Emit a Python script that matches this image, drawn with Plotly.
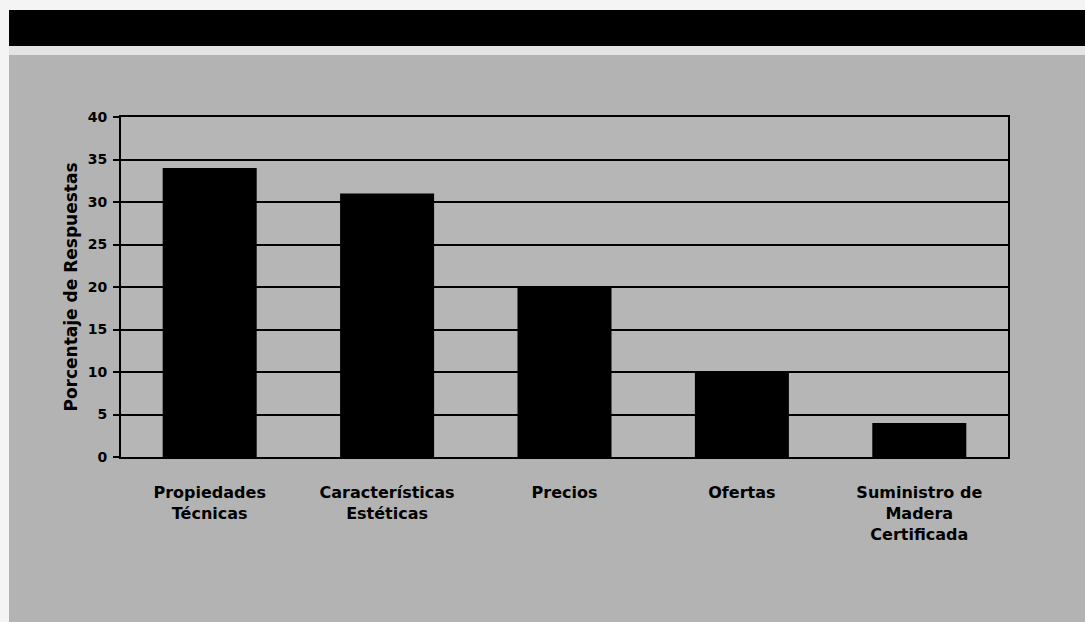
import plotly.graph_objects as go

categories = ["Propiedades<br>Técnicas", "Características<br>Estéticas", "Precios", "Ofertas",
              "Suministro de<br>Madera<br>Certificada"]
values = [34, 31, 20, 10, 4]
y_ticks = [0, 5, 10, 15, 20, 25, 30, 35, 40]

W, H = 1085, 622
L, R, T, B = 121, 77, 117, 165


def xp(px):
    return (px - L) / (W - L - R)


def yp(py):
    return (H - B - py) / (H - T - B)


def rect(x0, y0, x1, y1, color):
    return dict(type="rect", xref="paper", yref="paper",
                x0=xp(x0), x1=xp(x1), y0=yp(y1), y1=yp(y0),
                fillcolor=color, line=dict(width=0), layer="below")


fig = go.Figure(go.Bar(x=categories, y=values, marker=dict(color="black", line=dict(width=0)),
                       width=0.53))

font = "DejaVu Sans, sans-serif"
fig.update_layout(
    width=W, height=H,
    margin=dict(l=L, r=R, t=T, b=B),
    paper_bgcolor="#b3b3b3",
    plot_bgcolor="#b6b6b6",
    showlegend=False,
    font=dict(family=font, color="black", size=13),
    shapes=[
        rect(-2, -2, W + 2, 10, "#f4f4f4"),
        rect(-2, -2, 9, H + 2, "#f4f4f4"),
        rect(9, 46, W + 2, 55, "#e4e4e4"),
        rect(9, 10, W + 2, 46, "black"),
    ],
)
fig.update_xaxes(showline=True, linecolor="black", linewidth=2, mirror=True,
                 ticks="", tickfont=dict(size=16, family=font), showgrid=False,
                 ticklabelstandoff=20,
                 ticktext=[f"<b>{c}</b>" for c in categories], tickvals=categories)
fig.update_yaxes(range=[0, 40], tickvals=y_ticks, ticktext=[f"<b>{v}</b>" for v in y_ticks],
                 showline=True, linecolor="black",
                 linewidth=2, mirror=True, ticks="outside", ticklen=6, tickwidth=2,
                 tickcolor="black", showgrid=True, gridcolor="black", gridwidth=2,
                 zeroline=False, tickfont=dict(size=14, family=font), ticklabelstandoff=3,
                 title=dict(text="<b>Porcentaje de Respuestas</b>", font=dict(size=17, family=font),
                            standoff=6))

fig.write_html("out.html", config={"displayModeBar": False},
               post_script="document.body.style.margin='0';document.body.style.padding='0';")
